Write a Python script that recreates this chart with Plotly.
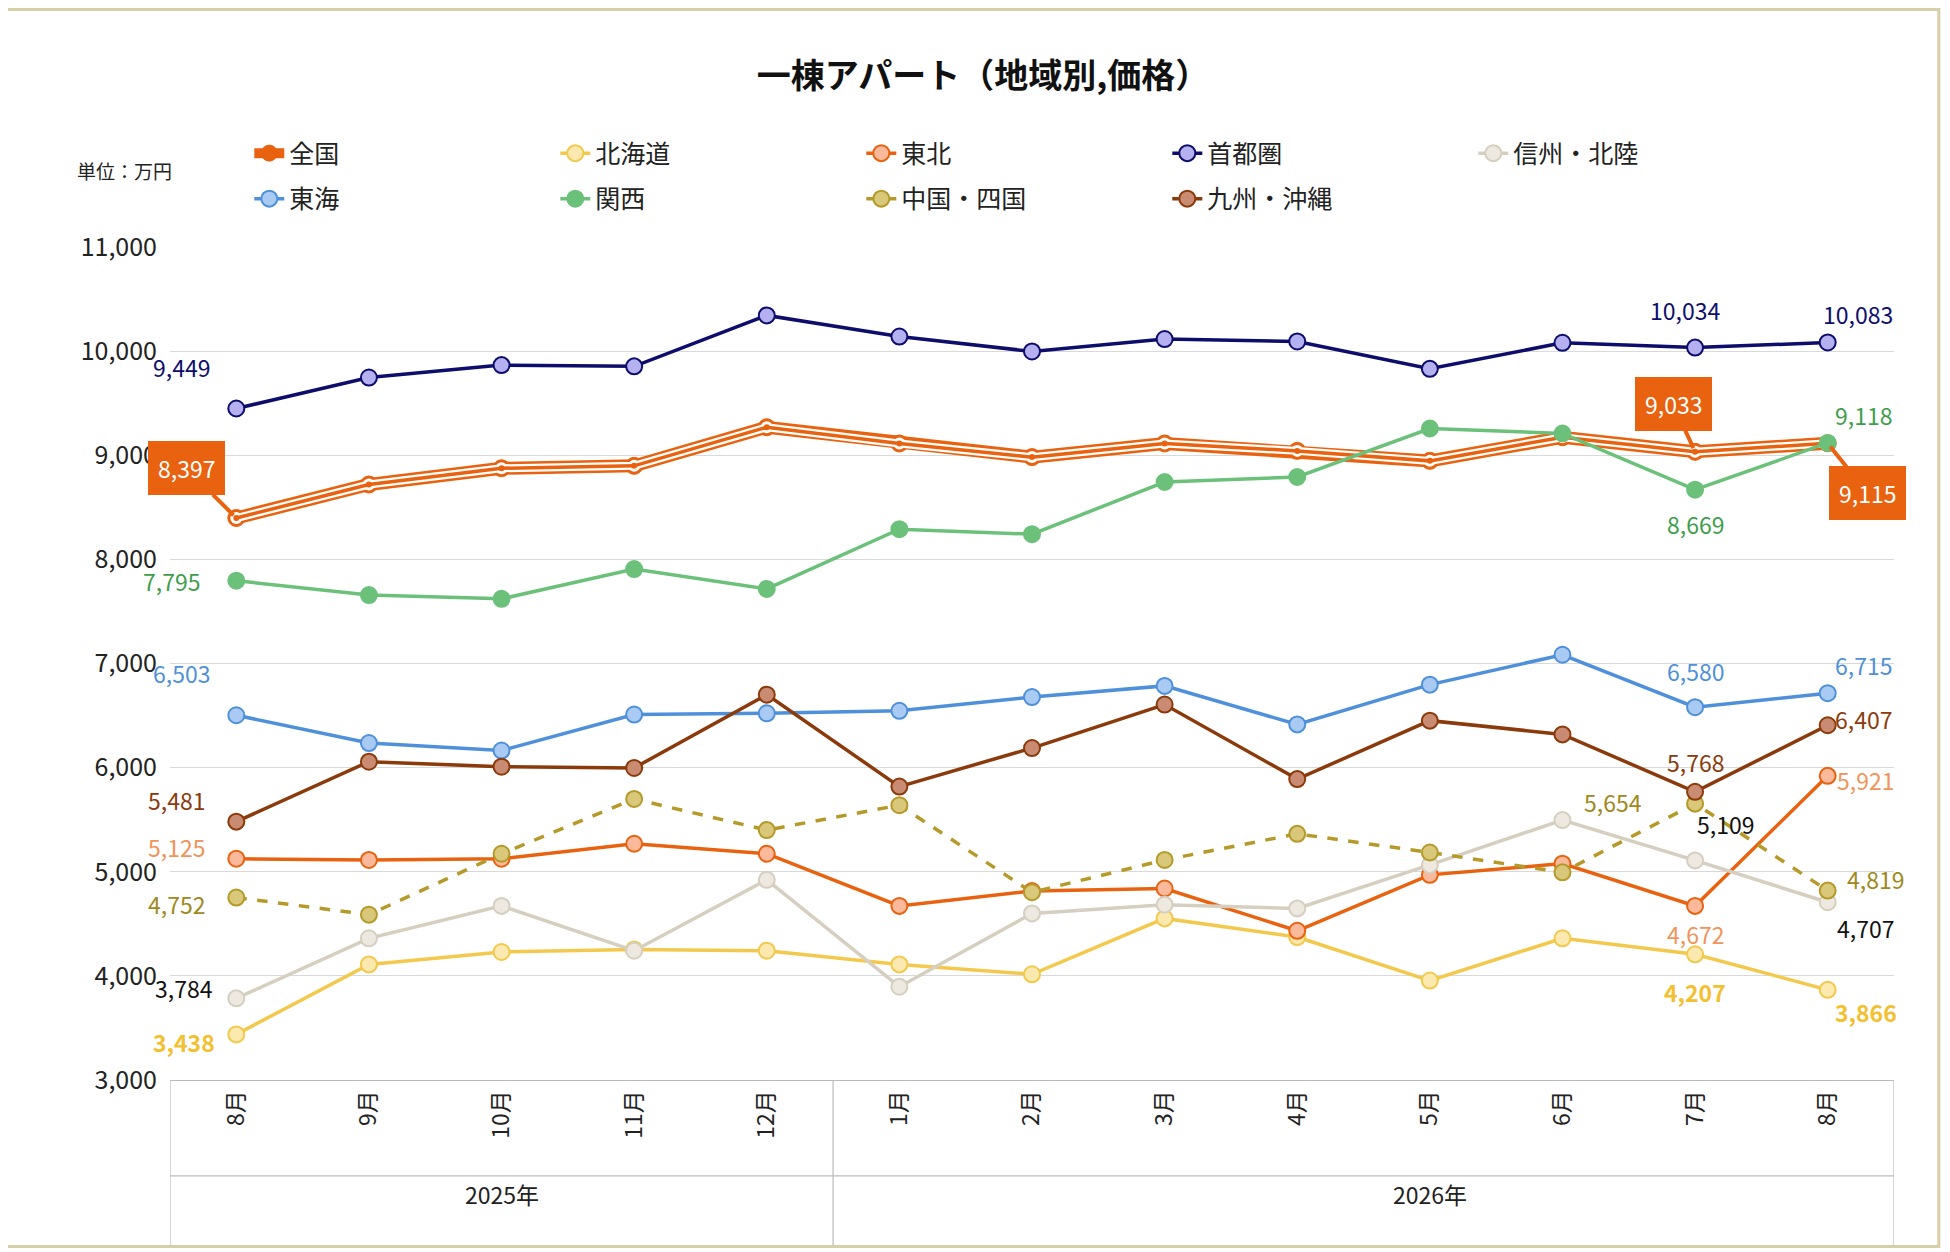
import plotly.graph_objects as go

months = ["8月","9月","10月","11月","12月","1月","2月","3月","4月","5月","6月","7月","8月"]
xcat = [f"{i}" for i in range(13)]
years = ["2025年", "2026年"]

zenkoku  = [8397,8719,8875,8898,9269,9113,8982,9113,9042,8946,9173,9033,9115]
hokkaido = [3438,4110,4230,4254,4242,4110,4015,4552,4373,3955,4361,4207,3866]
tohoku   = [5125,5113,5125,5269,5173,4672,4815,4839,4433,4970,5078,4672,5921]
shutoken = [9449,9746,9866,9854,10343,10140,9997,10116,10093,9830,10080,10034,10083]
shinshu  = [3784,4361,4672,4242,4922,3896,4600,4684,4648,5066,5496,5109,4707]
tokai    = [6503,6236,6164,6510,6522,6546,6678,6785,6415,6797,7084,6580,6715]
kansai   = [7795,7657,7621,7907,7716,8290,8242,8743,8791,9257,9209,8669,9118]
chugoku  = [4752,4588,5173,5699,5400,5639,4803,5113,5364,5185,4994,5654,4819]
kyushu   = [5481,6057,6009,5997,6701,5818,6188,6606,5890,6451,6319,5768,6407]

FONT = "Noto Sans CJK JP"
fig = go.Figure()

def add(name, y, color, mfill, dash="solid", width=3.5):
    fig.add_trace(go.Scatter(x=xcat, y=y, name=name, mode="lines+markers",
        line=dict(color=color, width=width, dash=dash),
        marker=dict(size=16, color=mfill, line=dict(color=color, width=2))))

# 全国 triple line
fig.add_trace(go.Scatter(x=xcat, y=zenkoku, name="全国", legendgroup="z", mode="lines+markers",
    line=dict(color="#E8620F", width=13),
    marker=dict(size=17, color="#E8620F", line=dict(color="#E8620F", width=1))))
fig.add_trace(go.Scatter(x=xcat, y=zenkoku, legendgroup="z", showlegend=False, mode="lines+markers",
    line=dict(color="white", width=8), marker=dict(size=12, color="white"), hoverinfo="skip"))
fig.add_trace(go.Scatter(x=xcat, y=zenkoku, legendgroup="z", showlegend=False, mode="lines+markers",
    line=dict(color="#E8620F", width=3.5), marker=dict(size=6, color="#E8620F"), hoverinfo="skip"))

add("北海道", hokkaido, "#F2C94C", "#FCE9B0")
add("東北", tohoku, "#E8620F", "#F9B99A")
add("首都圏", shutoken, "#0D0D6B", "#B5B0F0")
add("信州・北陸", shinshu, "#D6CFC0", "#EDE9E0")
add("東海", tokai, "#4F90DB", "#A9CAF2")
add("関西", kansai, "#6CC17A", "#6CC17A")
add("中国・四国", chugoku, "#B59A2A", "#D9C77A", dash="dash")
add("九州・沖縄", kyushu, "#8B3A0B", "#C98C72")

def fmt(v): return f"{v:,}"

def lab(series, i, color, dx=0, dy=0, bold=False):
    t = fmt(series[i])
    if bold: t = f"<b>{t}</b>"
    fig.add_annotation(x=xcat[i], y=series[i], text=t, showarrow=False,
        xshift=dx, yshift=dy, font=dict(family=FONT, size=23, color=color))

lab(shutoken, 0, "#0D0D6B", -55, 42); lab(shutoken, 11, "#0D0D6B", -10, 38); lab(shutoken, 12, "#0D0D6B", 30, 28)
lab(kansai, 0, "#3E9E4C", -65, 0); lab(kansai, 11, "#3E9E4C", 0, -34); lab(kansai, 12, "#3E9E4C", 36, 28)
lab(tokai, 0, "#4F90DB", -55, 42); lab(tokai, 11, "#4F90DB", 0, 36); lab(tokai, 12, "#4F90DB", 36, 28)
lab(kyushu, 0, "#8B3A0B", -60, 22); lab(kyushu, 11, "#8B3A0B", 0, 30); lab(kyushu, 12, "#8B3A0B", 36, 6)
lab(tohoku, 0, "#F0945A", -60, 12); lab(tohoku, 11, "#F0945A", 0, -28); lab(tohoku, 12, "#F0945A", 38, -4)
lab(chugoku, 0, "#A08820", -60, -6); lab(chugoku, 11, "#A08820", -82, 2); lab(chugoku, 12, "#A08820", 48, 12)
lab(shinshu, 0, "#111111", -52, 10); lab(shinshu, 11, "#111111", 30, 36); lab(shinshu, 12, "#111111", 38, -26)
lab(hokkaido, 0, "#F2C030", -52, -8, True); lab(hokkaido, 11, "#F2C030", 0, -38, True); lab(hokkaido, 12, "#F2C030", 38, -22, True)

def callout(i, ax, ay):
    fig.add_annotation(x=xcat[i], y=zenkoku[i], text=fmt(zenkoku[i]), showarrow=True,
        arrowhead=0, arrowwidth=4, arrowcolor="#E8620F", ax=ax, ay=ay, standoff=4,
        bgcolor="#E8620F", bordercolor="#E8620F", borderpad=9,
        font=dict(family=FONT, size=23, color="white"))
callout(0, -50, -50)
callout(11, -22, -48)
callout(12, 40, 50)

# bottom category area: year labels and separators
for xx, t in [(2, years[0]), (9, years[1])]:
    fig.add_annotation(x=xx, y=-0.16, yref="paper", text=t, showarrow=False,
                       font=dict(family=FONT, size=23, color="#222"))
for xv in [-0.5, 4.5, 12.5]:
    fig.add_shape(type="line", x0=xv, x1=xv, y0=0, y1=-0.2, yref="paper",
                  line=dict(color="#BBBBBB", width=1.2))
fig.add_shape(type="line", x0=-0.5, x1=12.5, y0=-0.115, y1=-0.115, yref="paper",
              line=dict(color="#BBBBBB", width=1.2))

fig.add_annotation(x=-0.055, y=1.11, xref="paper", yref="paper", text="単位：万円", showarrow=False,
                   font=dict(family=FONT, size=19, color="#222"))
fig.add_shape(type="rect", xref="paper", yref="paper", x0=-0.096, x1=1.026, y0=-0.2, y1=1.285,
              line=dict(color="#D8CFA8", width=3))

fig.update_layout(
    width=1950, height=1252, plot_bgcolor="white", paper_bgcolor="white",
    margin=dict(l=162, r=64, t=239, b=180),
    title=dict(text="<b>一棟アパート（地域別,価格）</b>", x=0.5, y=0.955, xanchor="center",
               font=dict(family=FONT, size=34, color="#111")),
    font=dict(family=FONT, size=20, color="#222"),
    showlegend=True,
    legend=dict(orientation="h", x=0.046, y=1.14, xanchor="left", yanchor="top",
                bgcolor="rgba(0,0,0,0)",
                entrywidth=261, entrywidthmode="pixels", font=dict(family=FONT, size=25)),
    xaxis=dict(type="category", tickvals=xcat, ticktext=months, tickangle=-90,
               range=[-0.5, 12.5], showgrid=False, showline=True, linecolor="#BBBBBB",
               tickfont=dict(size=23, color="#222")),
    yaxis=dict(range=[3000, 11000], dtick=1000, tickformat=",", showgrid=True,
               gridcolor="#D9D9D9", zeroline=False, ticklabelstandoff=12,
               tickfont=dict(size=25, color="#222")),
)
fig.write_html("out.html")
